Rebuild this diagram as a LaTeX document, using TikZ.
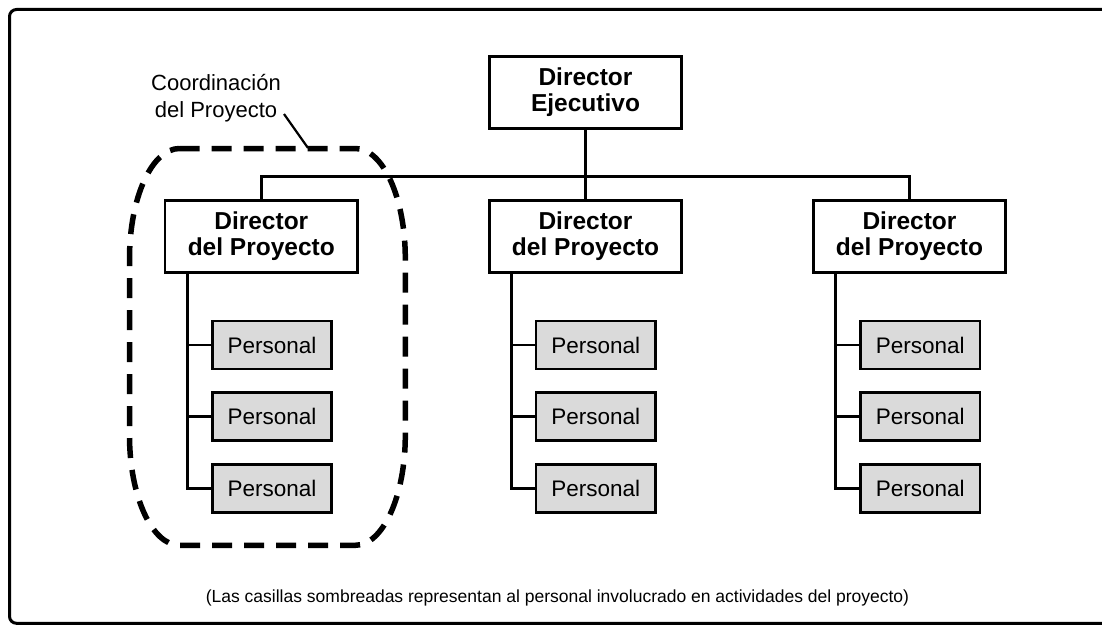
\documentclass[tikz,border=0pt]{standalone}
\usepackage{fontspec}
\setmainfont{Liberation Sans}
\usetikzlibrary{calc}
\definecolor{shade}{HTML}{DADADA}
\tikzset{
  headbox/.style={draw=black, line width=2.8pt, fill=white, minimum width=192.5pt, minimum height=72pt, inner sep=0pt, align=center, font=\fontsize{24.5}{26.7}\selectfont\bfseries},
  staffbox/.style={draw=black, line width=2.8pt, fill=shade, minimum width=119.5pt, minimum height=48pt, inner sep=0pt, font=\fontsize{22.5}{26}\selectfont},
  link/.style={line width=2.8pt},
  coordline/.style={line width=5.5pt, dash pattern=on 20pt off 12pt},
  frameline/.style={line width=3pt, rounded corners=7pt},
}
\begin{document}
\begin{tikzpicture}[x=1pt,y=-1pt]
\useasboundingbox (0,0) rectangle (1102,626);
\fill[white] (0,0) rectangle (1102,626);
\draw[frameline] (1120,9.5) -- (9.5,9.5) -- (9.5,623.3) -- (1120,623.3);

% coordination dashed outline
\draw[coordline] (179.5,148.5) -- (355.3,148.5) arc(270:360:50 and 110)
  -- (405.3,435.3) arc(0:90:50 and 110) -- (179.5,545.3) arc(90:180:50 and 110)
  -- (129.5,258.5) arc(180:270:50 and 110) -- cycle;

\node[align=center, font=\fontsize{22}{27.5}\selectfont] (lbl) at (216,98) {Coordinación\\del Proyecto};
\coordinate (leadA) at (284,114);
\coordinate (leadB) at (308,148);
\draw[line width=2.2pt] (leadA) -- (leadB);

% nodes
\node[headbox] (exec) at (585.5,92.2) {Director\\Ejecutivo};
\node[headbox] (d1) at (261.3,236.2) {Director\\del Proyecto};
\node[headbox] (d2) at (585.5,236.2) {Director\\del Proyecto};
\node[headbox] (d3) at (909.5,236.2) {Director\\del Proyecto};

\foreach \c/\x in {1/272, 2/595.7, 3/920.3}{
  \node[staffbox] (p\c1) at (\x,345) {Personal};
  \node[staffbox] (p\c2) at (\x,416.5) {Personal};
  \node[staffbox] (p\c3) at (\x,488.5) {Personal};
}

% connectors
\coordinate (bus) at (585.5,176.7);
\draw[link] (exec.south) -- (bus);
\draw[link] (d1.north) |- (bus) -| (d3.north);
\draw[link] (bus) -- (d2.north);

\foreach \c in {1,2,3}{
  \draw[link] ($(d\c.south west)+(24,0)$) |- (p\c3.west);
  \draw[link] (p\c1.west) -- ++(-23.5,0);
  \draw[link] (p\c2.west) -- ++(-23.5,0);
}

\node[font=\fontsize{17.5}{20}\selectfont] (note) at (557.5,598) {(Las casillas sombreadas representan al personal involucrado en actividades del proyecto)};
\end{tikzpicture}
\end{document}
